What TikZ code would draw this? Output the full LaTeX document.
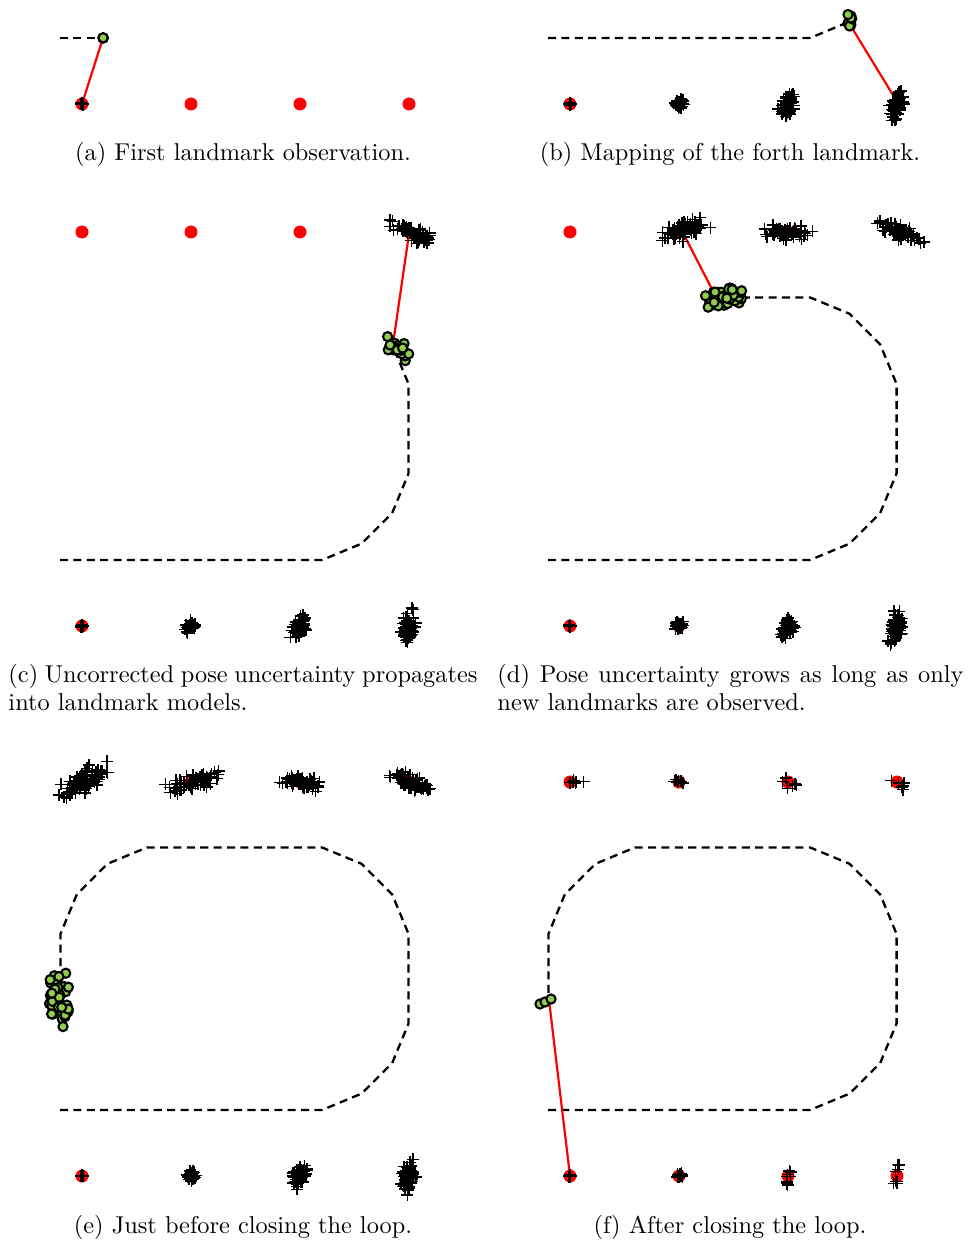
\documentclass[tikz,border=0pt]{standalone}
\usetikzlibrary{calc}

\definecolor{particlegreen}{RGB}{146,204,76}

\tikzset{
  traj/.style={black, line width=0.95pt, dash pattern=on 3.3pt off 2.2pt},
  obs/.style={red, line width=0.9pt},
  landmark/.style={fill=red},
  crossmark/.style={black, line width=0.6pt},
  robotmark/.style={fill=particlegreen, draw=black, line width=0.85pt},
  caption/.style={inner sep=0pt, font=\normalsize},
}

% landmark estimate particles: centre (#1,#2), spreads #3/#4 along/across axis #5, #6 samples
\newcommand\crosscloud[6]{%
  \foreach \k in {1,...,#6}{%
    \pgfmathsetmacro\ua{#3*(rand+rand+rand)}%
    \pgfmathsetmacro\ub{#4*(rand+rand+rand)}%
    \pgfmathsetmacro\ptx{#1+\ua*cos(#5)-\ub*sin(#5)}%
    \pgfmathsetmacro\pty{#2+\ua*sin(#5)+\ub*cos(#5)}%
    \draw[crossmark] (\ptx-6,\pty) -- (\ptx+6,\pty) (\ptx,\pty-6) -- (\ptx,\pty+6);
  }}

% robot pose particles, same parameters
\newcommand\posecloud[6]{%
  \foreach \k in {1,...,#6}{%
    \pgfmathsetmacro\ua{#3*(rand+rand+rand)}%
    \pgfmathsetmacro\ub{#4*(rand+rand+rand)}%
    \pgfmathsetmacro\ptx{#1+\ua*cos(#5)-\ub*sin(#5)}%
    \pgfmathsetmacro\pty{#2+\ua*sin(#5)+\ub*cos(#5)}%
    \filldraw[robotmark] (\ptx,\pty) circle[radius=4.6];
  }}

% true landmark positions
\newcommand\bottomlandmarks{%
  \foreach \lx in {82,191,300,409}{\fill[landmark] (\lx,626) circle[radius=6.5];}}
\newcommand\toplandmarks{%
  \foreach \lx in {82,191,300,409}{\fill[landmark] (\lx,232) circle[radius=6.5];}}

% drifting estimates of the bottom row
\newcommand\bottomclouds{%
  \crosscloud{82}{626}{0.5}{0.5}{0}{20}%
  \crosscloud{191}{626}{2.8}{1.8}{-45}{40}%
  \crosscloud{300}{626}{5.5}{2.8}{-68}{60}%
  \crosscloud{409}{627}{7.5}{3}{-75}{70}}

\begin{document}
\begin{tikzpicture}[x=0.4107pt, y=-0.4107pt]
\useasboundingbox (0,0) rectangle (968,1240);
\pgfmathsetseed{4711}

% ---------- (a) ----------
\begin{scope}[shift={(0,-522)}]
  \coordinate (a-robot) at (103,560);
  \coordinate (a-lm) at (82,626);
  \draw[traj] (60,560) -- (a-robot);
  \bottomlandmarks
  \draw[obs] (a-robot) -- (a-lm);
  \crosscloud{82}{626}{0.5}{0.5}{0}{20}
  \posecloud{103}{560}{0.3}{0.3}{0}{3}
\end{scope}

% ---------- (b) ----------
\begin{scope}[shift={(488,-522)}]
  \coordinate (b-robot) at (364,550);
  \coordinate (b-lm) at (408,622);
  \draw[traj] (60,560) -- (322,560) -- ++(-22.5:43);
  \bottomlandmarks
  \draw[obs] (b-robot) -- (b-lm);
  \bottomclouds
  \posecloud{362}{543}{4.5}{1.2}{90}{8}
\end{scope}

% ---------- (c) ----------
\begin{scope}
  \coordinate (c-robot) at (393,344);
  \coordinate (c-lm) at (409,234);
  \draw[traj] (60,560) -- (322,560) -- ++(-22.5:43) -- ++(-45:43) -- ++(-67.5:43)
    -- ++(0,-89.4) -- ++(-112.5:43);
  \bottomlandmarks
  \toplandmarks
  \draw[obs] (c-robot) -- (c-lm);
  \bottomclouds
  \crosscloud{412}{232}{10}{3.5}{24}{70}
  \posecloud{395}{346}{8}{3.2}{35}{25}
\end{scope}

% ---------- (d) ----------
\begin{scope}[shift={(488,0)}]
  \coordinate (d-robot) at (227,295);
  \coordinate (d-lm) at (195,233);
  \draw[traj] (60,560) -- (322,560) -- ++(-22.5:43) -- ++(-45:43) -- ++(-67.5:43)
    -- ++(0,-89.4) -- ++(-112.5:43) -- ++(-135:43) -- ++(-157.5:43) -- ++(-85,0);
  \bottomlandmarks
  \toplandmarks
  \draw[obs] (d-robot) -- (d-lm);
  \bottomclouds
  \crosscloud{193}{231}{11}{4}{-20}{70}
  \crosscloud{301}{232}{10}{3.2}{3}{70}
  \crosscloud{411}{232}{10}{3.2}{25}{70}
  \posecloud{237}{297}{10}{4.5}{-15}{45}
\end{scope}

% ---------- (e) ----------
\begin{scope}[shift={(0,550)}]
  \draw[traj] (60,560) -- (322,560) -- ++(-22.5:43) -- ++(-45:43) -- ++(-67.5:43)
    -- ++(0,-89.4) -- ++(-112.5:43) -- ++(-135:43) -- ++(-157.5:43) -- ++(-175,0)
    -- ++(157.5:43) -- ++(135:43) -- ++(112.5:43) -- ++(0,64);
  \bottomlandmarks
  \toplandmarks
  \bottomclouds
  \crosscloud{84}{231}{14}{4.5}{-33}{70}
  \crosscloud{194}{232}{12}{3.8}{-18}{70}
  \crosscloud{301}{232}{10}{3.2}{3}{70}
  \crosscloud{411}{232}{10}{3.2}{25}{70}
  \posecloud{58}{450}{12}{5.5}{90}{45}
\end{scope}

% ---------- (f) ----------
\begin{scope}[shift={(488,550)}]
  \coordinate (f-robot) at (61,450);
  \coordinate (f-lm) at (82,626);
  \draw[traj] (60,560) -- (322,560) -- ++(-22.5:43) -- ++(-45:43) -- ++(-67.5:43)
    -- ++(0,-89.4) -- ++(-112.5:43) -- ++(-135:43) -- ++(-157.5:43) -- ++(-175,0)
    -- ++(157.5:43) -- ++(135:43) -- ++(112.5:43) -- ++(0,60);
  \bottomlandmarks
  \toplandmarks
  \draw[obs] (f-robot) -- (f-lm);
  \crosscloud{82}{626}{0.5}{0.5}{0}{20}
  \crosscloud{191}{626}{1.5}{1.2}{0}{15}
  \crosscloud{300}{626}{4}{1.2}{-80}{8}
  \crosscloud{409}{626}{6}{1.5}{-80}{8}
  \crosscloud{82}{232}{6}{1.2}{0}{6}
  \crosscloud{192}{232}{5}{1.5}{12}{6}
  \crosscloud{301}{233}{6}{2}{25}{6}
  \crosscloud{409}{233}{7}{2}{35}{6}
  \filldraw[robotmark] (52,454) circle[radius=4.6];
  \filldraw[robotmark] (57,452) circle[radius=4.6];
  \filldraw[robotmark] (63,449) circle[radius=4.6];
\end{scope}

% ---------- captions ----------
\node[caption, anchor=base] (capa) at (243,161) {(a) First landmark observation.};
\node[caption, anchor=base] (capb) at (730,161) {(b) Mapping of the forth landmark.};
\node[caption, anchor=base west] (capc1) at (8,682)
  {\makebox[192.6pt][s]{(c) Uncorrected pose uncertainty propagates}};
\node[caption, anchor=base west] (capc2) at (8,710) {into landmark models.};
\node[caption, anchor=base west] (capd1) at (497,682)
  {\makebox[191.4pt][s]{(d) Pose uncertainty grows as long as only}};
\node[caption, anchor=base west] (capd2) at (497,710) {new landmarks are observed.};
\node[caption, anchor=base] (cape) at (243,1233) {(e) Just before closing the loop.};
\node[caption, anchor=base] (capf) at (730,1233) {(f) After closing the loop.};
\end{tikzpicture}
\end{document}
